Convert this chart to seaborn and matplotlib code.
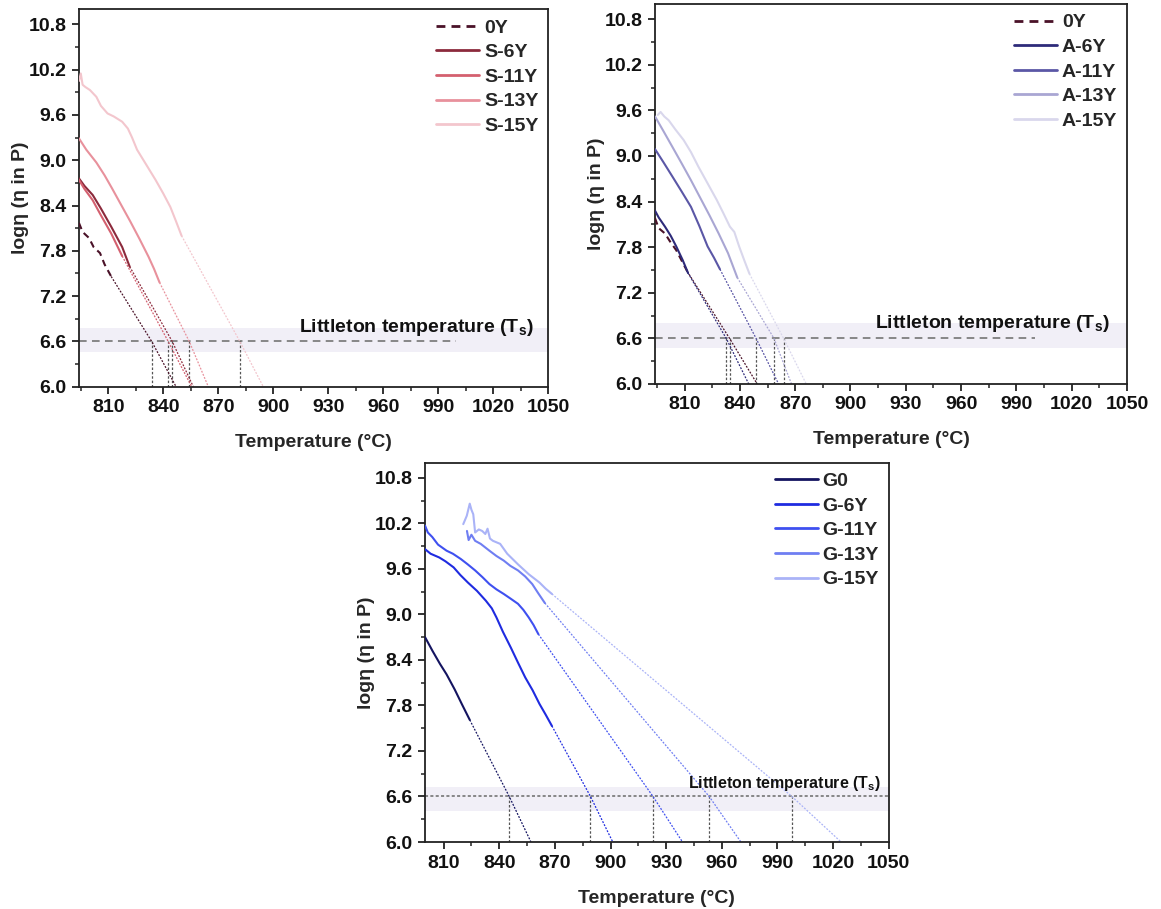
import matplotlib
matplotlib.use("Agg")
import matplotlib.pyplot as plt
from matplotlib.ticker import MultipleLocator
import seaborn as sns

# ---------------- data ----------------
LITTLETON = 6.6
Y_BASE = 6.0

# Panel 1 : S series
p1_labels = ["0Y", "S-6Y", "S-11Y", "S-13Y", "S-15Y"]
p1_colors = ["#4a1228", "#8c2a3c", "#d4606f", "#e8919c", "#f3c6cd"]
s0y_T = [794, 796, 799.5, 802, 805.5, 808, 811.6]
s0y_V = [8.17, 8.05, 7.97, 7.85, 7.77, 7.62, 7.46]
s6_T = [794, 797, 801.5, 806, 811.6, 817.6, 821.7]
s6_V = [8.76, 8.66, 8.54, 8.36, 8.12, 7.85, 7.59]
s11_T = [794, 797, 801.5, 806, 811.6, 817.6]
s11_V = [8.74, 8.62, 8.47, 8.27, 8.03, 7.73]
s13_T = [794, 798, 803.5, 808, 812, 817, 822, 827, 832, 835, 838]
s13_V = [9.29, 9.14, 8.97, 8.80, 8.63, 8.41, 8.19, 7.96, 7.72, 7.56, 7.38]
s15_T = [794, 795, 796, 797.5, 800, 803.5, 806, 809.6, 813, 817.6, 820.7, 823,
         825.7, 830, 835.8, 840, 843.9, 847, 850]
s15_V = [10.05, 10.15, 10.0, 9.97, 9.93, 9.84, 9.72, 9.62, 9.58, 9.51, 9.42, 9.30,
         9.14, 8.97, 8.74, 8.56, 8.38, 8.19, 8.0]
p1_ts = [833.7, 844.9, 842.7, 854.2, 881.8]
p1_t6 = [847.0, 856.4, 855.5, 864.6, 894.6]
p1_band = (6.46, 6.78)

# Panel 2 : A series
p2_labels = ["0Y", "A-6Y", "A-11Y", "A-13Y", "A-15Y"]
p2_colors = ["#4a1228", "#2e2b7a", "#5b57a6", "#a9a6d3", "#d9d7ec"]
a0y_T = [794, 796, 799.4, 802, 805.5, 808.5, 811.5]
a0y_V = [8.18, 8.05, 7.98, 7.88, 7.76, 7.62, 7.48]
a6_T = [794, 796, 799.4, 802.5, 805.5, 809, 811.9]
a6_V = [8.28, 8.19, 8.07, 7.95, 7.81, 7.63, 7.46]
a11_T = [794, 798.5, 803.4, 808.5, 813.5, 818, 822.5, 826, 829.2]
a11_V = [9.09, 8.92, 8.73, 8.53, 8.33, 8.08, 7.81, 7.66, 7.51]
a13_T = [794, 798.5, 803.4, 808.5, 813.5, 818.5, 823.5, 828.5, 833.6, 838.6]
a13_V = [9.52, 9.33, 9.12, 8.90, 8.68, 8.45, 8.22, 7.98, 7.72, 7.40]
a15_T = [795.5, 797, 799, 801.4, 805, 809.5, 813.5, 817.5, 822.5, 827.5, 831,
         834.6, 837, 839.6, 842.5, 845.2]
a15_V = [9.54, 9.58, 9.52, 9.47, 9.35, 9.21, 9.05, 8.86, 8.64, 8.42, 8.25,
         8.07, 8.0, 7.81, 7.62, 7.45]
p2_ts = [834.4, 832.6, 848.8, 858.5, 863.7]
p2_t6 = [849.4, 844.8, 861.0, 868.0, 876.0]
p2_band = (6.47, 6.80)

# Panel 3 : G series
p3_labels = ["G0", "G-6Y", "G-11Y", "G-13Y", "G-15Y"]
p3_colors = ["#141460", "#1f2be0", "#3f50f0", "#6f7ef2", "#aab3f7"]
g0_T = [800, 804, 808, 811.6, 816, 820, 824.1]
g0_V = [8.70, 8.52, 8.35, 8.21, 8.01, 7.81, 7.61]
g6_T = [800, 803, 807.7, 811, 815.4, 819, 823.1, 828, 832.8, 836, 838.5, 842,
        846.3, 850, 854, 858, 861.7, 865, 868.4]
g6_V = [9.86, 9.80, 9.75, 9.70, 9.62, 9.52, 9.42, 9.31, 9.18, 9.08, 8.96, 8.77,
        8.56, 8.37, 8.17, 8.0, 7.82, 7.68, 7.53]
g11_T = [800, 801.5, 803.9, 807, 811.6, 815, 819.3, 823, 827, 831, 834.7, 838.5,
         842.4, 846, 850.1, 853, 855.9, 858.5, 861.1]
g11_V = [10.17, 10.08, 10.02, 9.92, 9.84, 9.80, 9.73, 9.66, 9.58, 9.49, 9.40, 9.33,
         9.27, 9.21, 9.14, 9.06, 8.96, 8.86, 8.74]
g13_T = [822.6, 823.5, 825, 827, 830, 834.7, 838.5, 842.4, 846, 850.1, 854,
         857.8, 861, 864.6]
g13_V = [10.10, 9.98, 10.05, 9.97, 9.93, 9.84, 9.77, 9.71, 9.64, 9.58, 9.50,
         9.40, 9.28, 9.15]
g15_T = [820.6, 822.5, 824.1, 825, 826, 827, 829, 830.8, 832.5, 833.7, 835,
         836.6, 840.5, 844.3, 850.1, 855.9, 861.7, 865, 868.4]
g15_V = [10.19, 10.30, 10.46, 10.38, 10.32, 10.08, 10.12, 10.10, 10.06, 10.13, 10.0,
         9.97, 9.93, 9.80, 9.66, 9.53, 9.42, 9.34, 9.27]
p3_ts = [845.4, 889.2, 922.9, 953.2, 997.8]
p3_t6 = [857.1, 901.2, 938.8, 970.3, 1024.3]
p3_band = (6.41, 6.73)

x_ticks = [810, 840, 870, 900, 930, 960, 990, 1020, 1050]
y_ticks = [6.0, 6.6, 7.2, 7.8, 8.4, 9.0, 9.6, 10.2, 10.8]

# ---------------- style ----------------
sns.set_theme(style="ticks")
plt.rcParams['font.family'] = ['Liberation Sans', 'DejaVu Sans']
plt.rcParams['font.weight'] = 'bold'
plt.rcParams['axes.labelweight'] = 'bold'
plt.rcParams['mathtext.fontset'] = 'custom'
plt.rcParams['mathtext.rm'] = 'Liberation Sans:bold'
plt.rcParams['mathtext.it'] = 'Liberation Sans:bold'
plt.rcParams['mathtext.bf'] = 'Liberation Sans:bold'

FIG_W, FIG_H = 1161, 909
fig = plt.figure(figsize=(FIG_W / 100, FIG_H / 100), dpi=100)
ax1 = fig.add_axes([0.0680, 0.5746, 0.4040, 0.4152])
ax2 = fig.add_axes([0.5642, 0.5776, 0.4066, 0.4180])
ax3 = fig.add_axes([0.3661, 0.0737, 0.3994, 0.4173])


def draw_panel(ax, series, labels, colors, ts, t6, band, xmin, hl_end,
               hl_style, text_xy, text_size, dashed_first, xlabel_y):
    ax.axhspan(band[0], band[1], color="#f1eff7", zorder=0, lw=0)
    ax.hlines(LITTLETON, xmin, hl_end, colors="#6a6a6a", linestyles=hl_style,
              lw=1.1, zorder=1)
    ax.vlines(ts, Y_BASE, LITTLETON, colors="#555555", linestyles=(0, (2, 1.5)),
              lw=0.9, zorder=1)
    for i, ((T, V), lab, c) in enumerate(zip(series, labels, colors)):
        sns.lineplot(x=[T[-1], ts[i], t6[i]], y=[V[-1], LITTLETON, Y_BASE], ax=ax,
                     color=c, lw=0.9, linestyle=(0, (1.5, 1.2)), sort=False,
                     estimator=None, zorder=2)
    for i, ((T, V), lab, c) in enumerate(zip(series, labels, colors)):
        ls = (0, (3.2, 2.2)) if (dashed_first and i == 0) else "-"
        sns.lineplot(x=T, y=V, ax=ax, color=c, lw=1.5, linestyle=ls, sort=False,
                     estimator=None, label=lab, zorder=3)
    ax.text(text_xy[0], text_xy[1], r"Littleton temperature (T$_{\mathrm{s}}$)",
            fontsize=text_size, fontweight="bold", va="center", ha="left",
            color="#111111", zorder=4)
    ax.set_xlim(xmin, 1050)
    ax.set_ylim(6.0, 11.0)
    ax.set_xticks(x_ticks)
    ax.set_yticks(y_ticks)
    ax.set_xticklabels([str(v) for v in x_ticks])
    ax.set_yticklabels([f"{v:.1f}" for v in y_ticks])
    ax.xaxis.set_minor_locator(MultipleLocator(15))
    ax.yaxis.set_minor_locator(MultipleLocator(0.3))
    ax.tick_params(axis="both", which="major", direction="out", length=5, width=1.3,
                   labelsize=14, color="#222222", labelcolor="#111111", pad=4)
    ax.tick_params(axis="both", which="minor", direction="out", length=3, width=1.1,
                   color="#222222")
    for lbl in ax.get_xticklabels() + ax.get_yticklabels():
        lbl.set_fontweight("bold")
    for sp in ax.spines.values():
        sp.set_linewidth(1.3)
        sp.set_color("#222222")
        sp.set_visible(True)
    ax.set_xlabel("Temperature (°C)", fontsize=14, fontweight="bold")
    ax.set_ylabel("logη (η in P)", fontsize=14, fontweight="bold")
    bbox = ax.get_position()
    w_px = bbox.width * FIG_W
    h_px = bbox.height * FIG_H
    ax.yaxis.set_label_coords(-58.5 / w_px, 0.5)
    ax.yaxis.label.set_verticalalignment("center")
    ax.xaxis.set_label_coords(0.5, -xlabel_y / h_px)
    ax.xaxis.label.set_verticalalignment("center")
    leg = ax.legend(loc="upper right", frameon=False, fontsize=14, handlelength=2.2,
                    handletextpad=0.25, labelspacing=0.36, borderaxespad=0.1)
    for t in leg.get_texts():
        t.set_fontweight("bold")
    for h in leg.get_lines():
        h.set_linewidth(2.0)


draw_panel(ax1,
           [(s0y_T, s0y_V), (s6_T, s6_V), (s11_T, s11_V), (s13_T, s13_V), (s15_T, s15_V)],
           p1_labels, p1_colors, p1_ts, p1_t6, p1_band, 794, 1000, (0, (5, 3.5)),
           (914, 6.79), 14, True, 56)
draw_panel(ax2,
           [(a0y_T, a0y_V), (a6_T, a6_V), (a11_T, a11_V), (a13_T, a13_V), (a15_T, a15_V)],
           p2_labels, p2_colors, p2_ts, p2_t6, p2_band, 794, 1000, (0, (5, 3.5)),
           (913.5, 6.80), 14, True, 56)
draw_panel(ax3,
           [(g0_T, g0_V), (g6_T, g6_V), (g11_T, g11_V), (g13_T, g13_V), (g15_T, g15_V)],
           p3_labels, p3_colors, p3_ts, p3_t6, p3_band, 800, 1050, (0, (2, 1.5)),
           (942, 6.77), 11.5, False, 56)

fig.savefig("out.png", dpi=100)
